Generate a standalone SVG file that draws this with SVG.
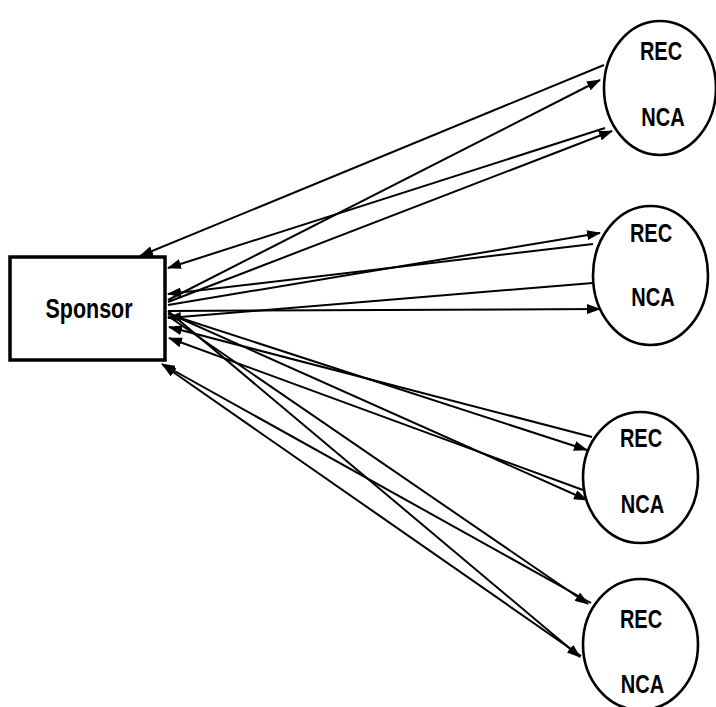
<svg xmlns="http://www.w3.org/2000/svg" width="716" height="707" viewBox="0 0 716 707">
<style>
.bg{fill:#fff}
.box{fill:#fff;stroke:#000;stroke-width:3.5}
.node{fill:#fff;stroke:#000;stroke-width:2.6}
.lbl{font-family:"Liberation Sans",Arial,sans-serif;font-weight:bold;font-size:20px;fill:#000;text-anchor:middle}
.con line{stroke:#000;stroke-width:2;fill:none;marker-end:url(#ah)}
</style>
<defs>
<marker id="ah" markerUnits="userSpaceOnUse" markerWidth="14" markerHeight="10" refX="13" refY="5" orient="auto">
<path d="M0,0 L14,5 L0,10 z" fill="#000"/>
</marker>
</defs>
<rect class="bg" x="0" y="0" width="716" height="707"/>
<g id="connectors" class="con">
<!-- circle 1 -->
<line x1="604" y1="65" x2="140" y2="256"/>
<line x1="168" y1="300" x2="600" y2="80"/>
<line x1="605" y1="128" x2="168" y2="268"/>
<line x1="168" y1="302" x2="612" y2="131"/>
<!-- circle 2 -->
<line x1="168" y1="305" x2="600" y2="233"/>
<line x1="593" y1="244" x2="168" y2="294"/>
<line x1="593" y1="283" x2="168" y2="318"/>
<line x1="168" y1="311" x2="600" y2="309"/>
<!-- circle 3 -->
<line x1="592" y1="437" x2="169" y2="327"/>
<line x1="168" y1="314" x2="587" y2="450"/>
<line x1="583" y1="490" x2="169" y2="338"/>
<line x1="168" y1="313" x2="587" y2="500"/>
<!-- circle 4 -->
<line x1="591" y1="603" x2="162" y2="364"/>
<line x1="168" y1="316" x2="588" y2="604"/>
<line x1="581" y1="656" x2="163" y2="365"/>
<line x1="168" y1="311" x2="580" y2="657"/>
</g>
<g id="sponsor">
<rect class="box" x="10" y="257" width="155" height="103"/>
<text class="lbl" transform="translate(89,318) scale(1,1.27)" style="font-size:21.5px">Sponsor</text>
</g>
<g id="node1">
<ellipse class="node" cx="660" cy="88" rx="56" ry="67"/>
<text class="lbl" transform="translate(661,60) scale(1,1.28)">REC</text>
<text class="lbl" transform="translate(663,126) scale(1,1.28)">NCA</text>
</g>
<g id="node2">
<ellipse class="node" cx="650.5" cy="275.5" rx="57.5" ry="69.5"/>
<text class="lbl" transform="translate(651,242) scale(1,1.28)">REC</text>
<text class="lbl" transform="translate(653,306) scale(1,1.28)">NCA</text>
</g>
<g id="node3">
<ellipse class="node" cx="640.5" cy="477.5" rx="57.5" ry="65.5"/>
<text class="lbl" transform="translate(641,447) scale(1,1.28)">REC</text>
<text class="lbl" transform="translate(642.5,513) scale(1,1.28)">NCA</text>
</g>
<g id="node4">
<ellipse class="node" cx="640.5" cy="644.5" rx="57.5" ry="65.5"/>
<text class="lbl" transform="translate(641,628) scale(1,1.28)">REC</text>
<text class="lbl" transform="translate(642.5,693) scale(1,1.28)">NCA</text>
</g>
</svg>
